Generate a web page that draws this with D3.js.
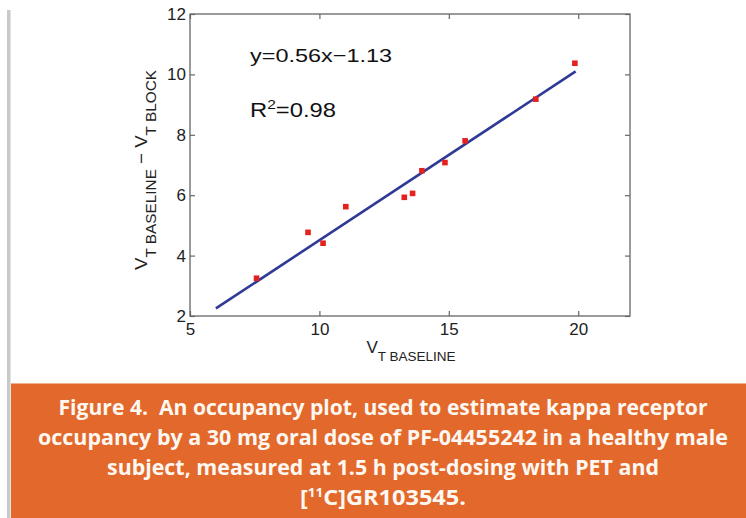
<!DOCTYPE html>
<html>
<head>
<meta charset="utf-8">
<script src="https://cdn.jsdelivr.net/npm/d3@7"></script>
<style>
  body { margin: 0; background: #fff; }
  svg { display: block; }
  .axis text { font-family: "Liberation Sans", Arial, sans-serif; font-size: 17px; fill: #222; }
  .axis line { stroke: #666; stroke-width: 1.2; }
</style>
</head>
<body>
<svg id="chart" width="746" height="518"></svg>
<script>
// values
var baseline = [7.57, 9.56, 10.14, 11.02, 13.28, 13.60, 13.96, 14.85, 15.63, 18.36, 19.87]
var diff = [3.25, 4.77, 4.41, 5.62, 5.93, 6.06, 6.81, 7.08, 7.80, 9.18, 10.37]
// fitted line end points
var fitX = [6, 19.9]
var fitY = [2.25, 10.1]
var xTicks = [5, 10, 15, 20]
var yTicks = [2, 4, 6, 8, 10, 12]
var captionLines = [
  "Figure 4.  An occupancy plot, used to estimate kappa receptor",
  "occupancy by a 30 mg oral dose of PF-04455242 in a healthy male",
  "subject, measured at 1.5 h post-dosing with PET and"
]

var svg = d3.select("#chart")
var pLeft = 190, pRight = 630, pTop = 14, pBottom = 316

var x = d3.scaleLinear().domain([5, 22]).range([pLeft, pRight])
var y = d3.scaleLinear().domain([2, 12]).range([pBottom, pTop])

//左邊灰色邊線
svg.append("rect")
  .attr("x", 7).attr("y", 10).attr("width", 3.5).attr("height", 508)
  .attr("fill", "#c9c9c9")

//座標軸
svg.append("g").attr("class", "axis")
  .attr("transform", `translate(0,${pBottom})`)
  .call(d3.axisBottom(x).tickValues(xTicks).tickSizeInner(-5).tickSizeOuter(0).tickPadding(7))
svg.append("g").attr("class", "axis")
  .attr("transform", `translate(${pLeft},0)`)
  .call(d3.axisLeft(y).tickValues(yTicks).tickSizeInner(-5).tickSizeOuter(0).tickPadding(4))
svg.append("g").attr("class", "axis")
  .attr("transform", `translate(0,${pTop})`)
  .call(d3.axisTop(x).tickValues(xTicks).tickSizeInner(-5).tickSizeOuter(0).tickFormat(""))
svg.append("g").attr("class", "axis")
  .attr("transform", `translate(${pRight},0)`)
  .call(d3.axisRight(y).tickValues(yTicks).tickSizeInner(-5).tickSizeOuter(0).tickFormat(""))
svg.selectAll(".axis .domain").remove()

//外框
svg.append("rect")
  .attr("x", pLeft).attr("y", pTop)
  .attr("width", pRight - pLeft).attr("height", pBottom - pTop)
  .attr("fill", "none").attr("stroke", "#666").attr("stroke-width", 1.3)

//回歸線
var line = d3.line()
  .x(d => x(d[0]))
  .y(d => y(d[1]))
svg.append("path")
  .datum(d3.zip(fitX, fitY))
  .attr("d", line)
  .attr("fill", "none")
  .attr("stroke", "#2e3a96")
  .attr("stroke-width", 2.6)

//資料點
svg.selectAll("rect.pt")
  .data(d3.zip(baseline, diff))
  .enter().append("rect")
  .attr("class", "pt")
  .attr("x", d => x(d[0]) - 2.8)
  .attr("y", d => y(d[1]) - 2.8)
  .attr("width", 5.6).attr("height", 5.6)
  .attr("fill", "#e3221e")

var font = "'Liberation Sans', Arial, sans-serif"

//方程式文字
svg.append("text")
  .attr("x", 250).attr("y", 61.5)
  .attr("textLength", 142).attr("lengthAdjust", "spacingAndGlyphs")
  .style("font-family", font).style("font-size", "19px").style("fill", "#111")
  .text("y=0.56x\u22121.13")

var r2 = svg.append("text")
  .attr("x", 250).attr("y", 116.5)
  .attr("textLength", 86).attr("lengthAdjust", "spacingAndGlyphs")
  .style("font-family", font).style("font-size", "20px").style("fill", "#111")
r2.append("tspan").text("R")
r2.append("tspan").attr("dy", -8).style("font-size", "13px").text("2")
r2.append("tspan").attr("dy", 8).text("=0.98")

//x軸標題
var xl = svg.append("text")
  .attr("x", 411).attr("y", 353)
  .attr("text-anchor", "middle")
  .style("font-family", font).style("font-size", "17px").style("fill", "#222")
xl.append("tspan").text("V")
xl.append("tspan").attr("dy", 8).style("font-size", "13.5px").text("T BASELINE")

//y軸標題
var yl = svg.append("text")
  .attr("transform", "translate(147,170) rotate(-90)")
  .attr("text-anchor", "middle")
  .attr("textLength", 200).attr("lengthAdjust", "spacingAndGlyphs")
  .style("font-family", font).style("font-size", "17px").style("fill", "#222")
yl.append("tspan").text("V")
yl.append("tspan").attr("dy", 9).style("font-size", "14px").text("T BASELINE")
yl.append("tspan").attr("dy", -9).text(" \u2212 V")
yl.append("tspan").attr("dy", 9).style("font-size", "14px").text("T BLOCK")

//橘色說明框
svg.append("rect")
  .attr("x", 11).attr("y", 383).attr("width", 735).attr("height", 135)
  .attr("fill", "#e2692b")
svg.append("line")
  .attr("x1", 11).attr("x2", 746).attr("y1", 383.5).attr("y2", 383.5)
  .attr("stroke", "#efb08a").attr("stroke-width", 1)

var capWidths = [649, 690, 552]
svg.selectAll("text.cap")
  .data(captionLines)
  .enter().append("text")
  .attr("class", "cap")
  .attr("x", 383)
  .attr("y", (d, i) => 415 + i * 30)
  .attr("text-anchor", "middle")
  .attr("textLength", (d, i) => capWidths[i])
  .attr("lengthAdjust", "spacingAndGlyphs")
  .style("font-family", "'Open Sans', sans-serif")
  .style("font-weight", "bold")
  .style("font-size", "21px")
  .style("fill", "#fff8f2")
  .style("white-space", "pre")
  .text(d => d)

var last = svg.append("text")
  .attr("x", 383).attr("y", 505)
  .attr("text-anchor", "middle")
  .attr("textLength", 166).attr("lengthAdjust", "spacingAndGlyphs")
  .style("font-family", "'Open Sans', sans-serif")
  .style("font-weight", "bold")
  .style("font-size", "21px")
  .style("fill", "#fff8f2")
last.append("tspan").text("[")
last.append("tspan").attr("dy", -8).style("font-size", "12px").text("11")
last.append("tspan").attr("dy", 8).text("C]GR103545.")
</script>
</body>
</html>
